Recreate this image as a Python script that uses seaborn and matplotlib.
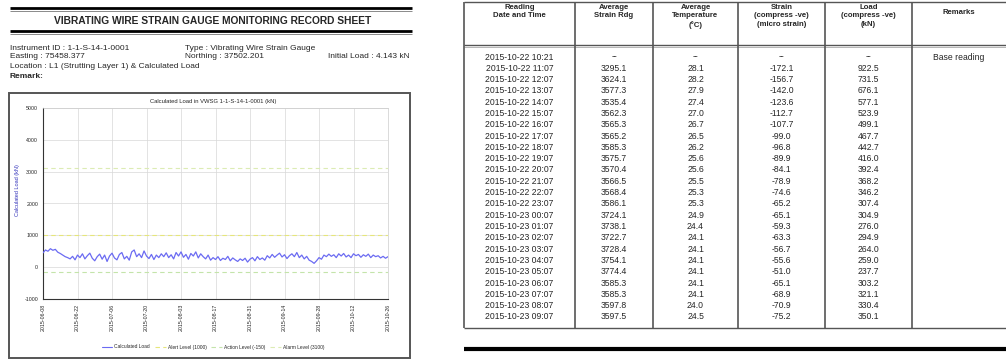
import matplotlib
matplotlib.use("Agg")
import matplotlib.pyplot as plt
from matplotlib.lines import Line2D
from matplotlib.patches import Rectangle
import pandas as pd
import seaborn as sns

W, H = 1006, 362

# ---- sheet header -------------------------------------------------------
sheet_title = "VIBRATING WIRE STRAIN GAUGE MONITORING RECORD SHEET"
info_left = ["Instrument ID : 1-1-S-14-1-0001", "Easting : 75458.377",
             "Location : L1 (Strutting Layer 1) & Calculated Load"]
info_mid = ["Type : Vibrating Wire Strain Gauge", "Northing : 37502.201"]
info_right = "Initial Load : 4.143 kN"
remark_label = "Remark:"

# ---- chart data ---------------------------------------------------------
chart_title = "Calculated Load in VWSG 1-1-S-14-1-0001 (kN)"
y_label = "Calculated Load (kN)"
series_start = "2015-06-08"
load_series = [
    450, 540, 500, 580, 530, 560, 470, 430, 380, 330, 300,
    260, 340, 230, 380, 300, 420, 260, 360, 440, 280,
    200, 330, 410, 250, 380, 180, 350, 440, 290, 230,
    400, 460, 260, 340, 220, 480, 540, 330, 420, 300,
    510, 350, 270, 400, 240, 380, 300, 420, 330, 450,
    300, 390, 260, 460, 350, 480, 310, 400, 250, 430,
    350, 480, 290, 420, 330, 260, 380, 220, 300, 240,
    330, 210, 280, 240, 340, 200, 290, 230, 180, 260,
    210, 280, 160, 250, 300, 200, 330, 240, 290, 220,
    360, 290, 400, 310, 380, 440, 320, 390, 270, 360,
    420, 330, 460, 300, 380, 260, 340, 220, 180, 120,
    200, 300, 250, 380, 330, 410, 340, 390, 300, 420,
    350, 430, 320, 380, 300, 420, 360, 400, 310, 390,
    340, 410, 300, 380, 330, 360, 290, 340, 280, 330, 300,
]
y_ticks = [-1000, 0, 1000, 2000, 3000, 4000, 5000]
x_tick_labels = ["2015-06-08", "2015-06-22", "2015-07-06", "2015-07-20",
                 "2015-08-03", "2015-08-17", "2015-08-31", "2015-09-14",
                 "2015-09-28", "2015-10-12", "2015-10-26"]
level_names = ["Alert Level (1000)", "Action Level (-150)", "Alarm Level (3100)"]
level_values = [1000, -150, 3100]
level_colors = ["#e6e67a", "#c4e4aa", "#dcecb4"]

# ---- table data ---------------------------------------------------------
col_headers = ["Reading\nDate and Time", "Average\nStrain Rdg", "Average\nTemperature\n(\u00b0C)",
               "Strain\n(compress -ve)\n(micro strain)", "Load\n(compress -ve)\n(kN)", "Remarks"]
reading_times = ["2015-10-22 10:21"] + \
    [f"2015-10-22 {h:02d}:07" for h in range(11, 24)] + \
    [f"2015-10-23 {h:02d}:07" for h in range(0, 10)]
avg_reading = ["--", "3295.1", "3624.1", "3577.3", "3535.4", "3562.3", "3565.3", "3565.2",
               "3585.3", "3575.7", "3570.4", "3566.5", "3568.4", "3586.1", "3724.1",
               "3738.1", "3722.7", "3728.4", "3754.1", "3774.4", "3585.3", "3585.3",
               "3597.8", "3597.5"]
avg_temp = ["--", "28.1", "28.2", "27.9", "27.4", "27.0", "26.7", "26.5", "26.2", "25.6",
            "25.6", "25.5", "25.3", "25.3", "24.9", "24.4", "24.1", "24.1", "24.1", "24.1",
            "24.1", "24.1", "24.0", "24.5"]
strain = ["--", "-172.1", "-156.7", "-142.0", "-123.6", "-112.7", "-107.7", "-99.0",
          "-96.8", "-89.9", "-84.1", "-78.9", "-74.6", "-65.2", "-65.1", "-59.3",
          "-63.3", "-56.7", "-55.6", "-51.0", "-65.1", "-68.9", "-70.9", "-75.2"]
load = ["--", "922.5", "731.5", "676.1", "577.1", "523.9", "499.1", "467.7", "442.7",
        "416.0", "392.4", "368.2", "346.2", "307.4", "304.9", "276.0", "294.9", "264.0",
        "259.0", "237.7", "303.2", "321.1", "330.4", "350.1"]
remarks = ["Base reading"]

# ---- drawing ------------------------------------------------------------
sns.set_theme(style="white")
plt.rcParams["font.family"] = ["Liberation Sans", "DejaVu Sans"]

fig = plt.figure(figsize=(W / 100, H / 100), dpi=100)
fig.patch.set_facecolor("white")


def fx(x):
    return x / W


def fy(y):
    return 1 - y / H


def hline(x0, x1, y, lw, color="black"):
    fig.add_artist(Line2D([fx(x0), fx(x1)], [fy(y), fy(y)], lw=lw, color=color,
                          transform=fig.transFigure, solid_capstyle="butt"))


def vline(x, y0, y1, lw, color="black"):
    fig.add_artist(Line2D([fx(x), fx(x)], [fy(y0), fy(y1)], lw=lw, color=color,
                          transform=fig.transFigure, solid_capstyle="butt"))


def text(x, y, s, **kw):
    fig.text(fx(x), fy(y), s, transform=fig.transFigure, **kw)


# left header block
hline(10, 412, 8, 2.0)
hline(10, 412, 10.5, 0.6, "#777777")
text(213, 21, sheet_title, ha="center", va="center", fontsize=7.4, fontweight="bold")
hline(10, 412, 31, 2.0)
hline(10, 412, 33.5, 0.6, "#777777")
text(10, 48, info_left[0], fontsize=6, va="center")
text(10, 57, info_left[1], fontsize=6, va="center")
text(10, 66, info_left[2], fontsize=6, va="center")
text(10, 76, remark_label, fontsize=6, va="center", fontweight="bold")
text(185, 48, info_mid[0], fontsize=6, va="center")
text(185, 57, info_mid[1], fontsize=6, va="center")
text(410, 57, info_right, fontsize=6, va="center", ha="right")

# chart frame
fig.add_artist(Rectangle((fx(9), fy(358)), fx(410) - fx(9), fy(93) - fy(358),
                         transform=fig.transFigure, fill=False, lw=1.4, ec="#555555"))
text(213, 101, chart_title, ha="center", va="center", fontsize=4.2)

ax = fig.add_axes([fx(43), fy(299), fx(388) - fx(43), fy(108) - fy(299)])
df = pd.DataFrame({
    "date": pd.date_range(series_start, periods=len(load_series), freq="D"),
    "load": load_series,
})
for v, c in zip(level_values, level_colors):
    ax.axhline(v, ls=(0, (4, 3)), color=c, lw=0.8, zorder=1)
sns.lineplot(data=df, x="date", y="load", ax=ax, color="#6b6bf2", lw=0.9, zorder=3)
ax.set_ylim(-1000, 5000)
ax.set_yticks(y_ticks)
ax.set_yticklabels([str(t) for t in y_ticks], fontsize=3.8)
tick_dates = pd.to_datetime(x_tick_labels)
ax.set_xlim(tick_dates[0], tick_dates[-1])
ax.set_xticks(tick_dates)
ax.set_xticklabels(x_tick_labels, rotation=90, fontsize=3.8)
ax.tick_params(length=2, width=0.5, pad=1.5)
ax.grid(True, color="#d8d8d8", lw=0.5)
ax.set_xlabel("")
ax.set_ylabel("")
for s in ["top", "right"]:
    ax.spines[s].set_color("#cccccc")
    ax.spines[s].set_linewidth(0.5)
for s in ["left", "bottom"]:
    ax.spines[s].set_color("#333333")
    ax.spines[s].set_linewidth(0.8)
text(18, 190, y_label, rotation=90, ha="center", va="center", fontsize=4, color="#3333bb")

handles = [Line2D([], [], color="#6b6bf2", lw=0.8)] + \
    [Line2D([], [], color=c, lw=0.8, ls=(0, (4, 3))) for c in level_colors]
fig.legend(handles, ["Calculated Load"] + level_names, loc="center",
           bbox_to_anchor=(fx(213), fy(347)), ncol=4, fontsize=3.5, frameon=False,
           handlelength=2.2, columnspacing=1.0, handletextpad=0.4)

# table
col_edges = [464, 575, 653, 738, 825, 912, 1006]
top, head_bot, tab_bot = 2, 45, 328
hline(464, 1006, top, 1.0, "#555555")
hline(464, 1006, head_bot, 1.0, "#555555")
hline(464, 1006, head_bot + 2, 0.5, "#999999")
hline(464, 1006, tab_bot, 1.0, "#555555")
for x in col_edges[:-1]:
    vline(x, top, tab_bot, 1.2, "#555555")
hline(464, 1006, 349, 3.0, "black")

centers = [(a + b) / 2 for a, b in zip(col_edges[:-1], col_edges[1:])]
for cx, h in zip(centers, col_headers):
    yy = 9 if h == "Remarks" else 4
    text(cx, yy, h, ha="center", va="top", fontsize=5.6, fontweight="bold", linespacing=1.25)

row_y0, row_step = 57, 11.3
columns = [reading_times, avg_reading, avg_temp, strain, load, remarks]
for cx, col in zip(centers, columns):
    for i, v in enumerate(col):
        text(cx, row_y0 + i * row_step, v, ha="center", va="center", fontsize=6.2)

fig.savefig("out.png", dpi=100, facecolor="white")
